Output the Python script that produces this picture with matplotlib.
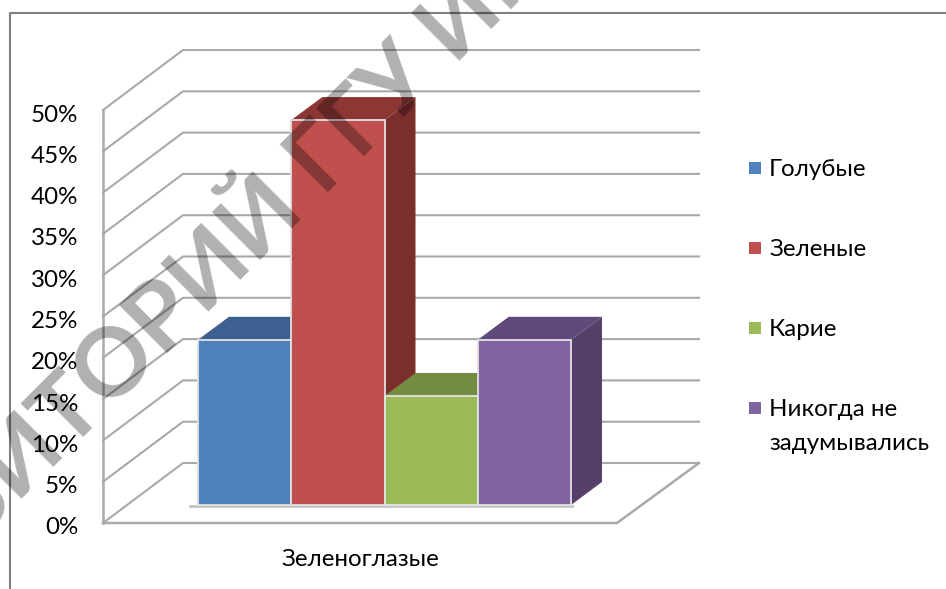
import matplotlib
matplotlib.use('Agg')
import matplotlib.pyplot as plt
from matplotlib.patches import Polygon, Rectangle
from matplotlib.transforms import ScaledTranslation

plt.rcParams['font.family'] = ['Lato', 'Open Sans', 'DejaVu Sans']

# Chart data
CATEGORIES = ['Зеленоглазые']
SERIES = ['Голубые', 'Зеленые', 'Карие', 'Никогда не\nзадумывались']
VALUES = [20, 46.6, 13.2, 20]
TICKS = [0, 5, 10, 15, 20, 25, 30, 35, 40, 45, 50]
WATERMARK = 'РЕПОЗИТОРИЙ ГГУ ИМЕНИ'

# Colours per series: front, top, side
FRONT = ['#4f81bd', '#c0504d', '#9bbb59', '#8064a2']
TOP = ['#3c6190', '#8d3735', '#748c41', '#604a7b']
SIDE = ['#375a85', '#7b2e2c', '#6a803b', '#554069']

# Layout in pixels
W, H = 946, 589
LEFT, RIGHT, BOTTOM, TOP_PX = 103, 699, 523, 50
UNIT = 50 / 413  # percent per pixel
WALL_DX, WALL_DY = 80, 60
BAR_DX, BAR_DY = 31, 23
BAR_LEFT, BAR_WIDTH, BAR_LIFT = 198, 93.25, 18
GRID = '#a9a9a9'
FONT_SIZE = 17.4


def px(dy):
    """Pixels to value units on the y axis."""
    return dy * UNIT


def draw_walls(ax):
    """Gridlines on the side and back walls plus the floor."""
    for t in TICKS:
        ax.plot([LEFT, LEFT + WALL_DX, RIGHT], [t, t + px(WALL_DY), t + px(WALL_DY)],
                color=GRID, lw=1.5, clip_on=False, zorder=1)
    ax.plot([LEFT, LEFT], [0, 50], color=GRID, lw=1.8, clip_on=False, zorder=1)
    ax.plot([LEFT, 617, RIGHT], [0, 0, px(WALL_DY)], color=GRID, lw=1.8, clip_on=False, zorder=1)


def draw_bars(ax):
    """Fake 3D bars: top, side and front face for each series."""
    base = px(BAR_LIFT)
    ax.plot([190, 572], [base - px(1), base - px(1)], color='#c4c4c4', lw=2, clip_on=False, zorder=2)
    for i, value in enumerate(VALUES):
        x0 = BAR_LEFT + i * BAR_WIDTH
        x1 = x0 + BAR_WIDTH
        y1 = base + value
        dx, dy = BAR_DX, px(BAR_DY)
        z = 3 + i
        ax.add_patch(Polygon([(x0, y1), (x0 + dx, y1 + dy), (x1 + dx, y1 + dy), (x1, y1)],
                             facecolor=TOP[i], edgecolor='none', clip_on=False, zorder=z))
        ax.add_patch(Polygon([(x1, base), (x1 + dx, base + dy), (x1 + dx, y1 + dy), (x1, y1)],
                             facecolor=SIDE[i], edgecolor='none', clip_on=False, zorder=z))
        ax.bar(x0, value, BAR_WIDTH, bottom=base, align='edge', color=FRONT[i],
               edgecolor='#e2e2e2', linewidth=1.3, clip_on=False, zorder=z)


def draw_legend(fig):
    """Legend squares and labels, first line level with the square."""
    for name, colour, y in zip(SERIES, FRONT, [168, 248, 328, 408]):
        fig.add_artist(Rectangle((749 / W, 1 - (y + 6) / H), 12 / W, 12 / H,
                                 facecolor=colour, edgecolor='none',
                                 transform=fig.transFigure))
        for j, part in enumerate(name.split('\n')):
            fig.text(769 / W, 1 - (y + 8 + j * 34) / H, part, fontsize=FONT_SIZE,
                     va='baseline', ha='left', color='black')


fig = plt.figure(figsize=(W / 100, H / 100), dpi=100, facecolor='white')
ax = fig.add_axes([LEFT / W, (H - BOTTOM) / H, (RIGHT - LEFT) / W, (BOTTOM - TOP_PX) / H])
ax.set_xlim(LEFT, RIGHT)
ax.set_ylim(0, px(BOTTOM - TOP_PX))
ax.patch.set_visible(False)
for spine in ax.spines.values():
    spine.set_visible(False)

ax.set_yticks(TICKS, [f'{t}%' for t in TICKS])
ax.set_xticks([360], CATEGORIES)
ax.tick_params(axis='y', length=0, pad=18, labelsize=FONT_SIZE, labelcolor='black')
ax.tick_params(axis='x', length=0, pad=19, labelsize=FONT_SIZE, labelcolor='black')

# Tick labels sit a little below their gridline starts in the reference
label_shift = ScaledTranslation(0, -3 / 100, fig.dpi_scale_trans)
for label in ax.get_yticklabels():
    label.set_transform(label.get_transform() + label_shift)

draw_walls(ax)
draw_bars(ax)
draw_legend(fig)

# Chart frame, only top and left edges are in the crop
fig.add_artist(plt.Line2D([10 / W, 10 / W, 1], [0, 1 - 13 / H, 1 - 13 / H],
                          color='#808080', lw=1.5, transform=fig.transFigure))

# Scan watermark, runs off the picture on both ends like in the scan
fig.text(-206 / W, 1 - 726 / H, WATERMARK, fontsize=68, fontweight='bold', color='black',
         alpha=0.31, rotation=45, rotation_mode='anchor', ha='left', va='baseline', zorder=20)

fig.savefig('out.png', dpi=100)
